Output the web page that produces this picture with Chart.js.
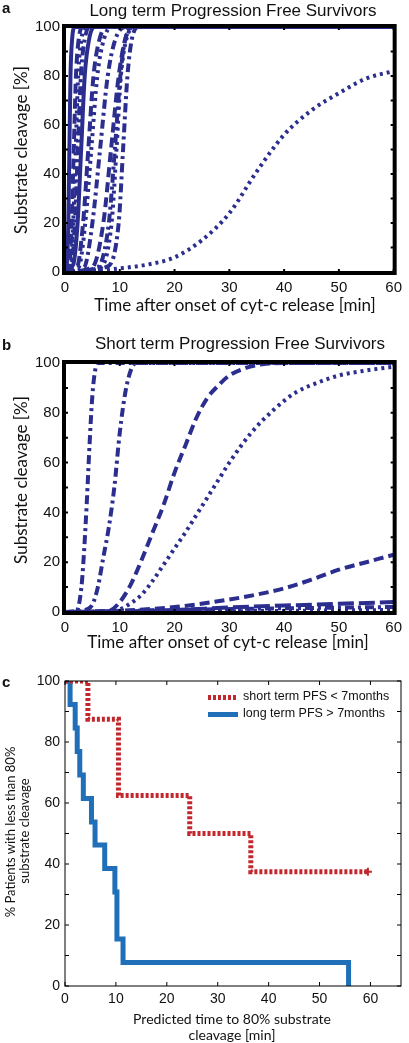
<!DOCTYPE html>
<html>
<head>
<meta charset="utf-8">
<script src="https://cdn.jsdelivr.net/npm/chart.js@4"></script>
<style>
  body { margin: 0; width: 409px; height: 1043px; position: relative; background: #fff; overflow: hidden; font-family: "Liberation Sans", Arial, sans-serif; }
  .box { position: absolute; }
  .txt { position: absolute; white-space: nowrap; color: #111; }
  .ctr { transform: translate(-50%, -50%); }
  .rot { transform: translate(-50%, -50%) rotate(-90deg); }
  .lab { font-family: Lato, "Liberation Sans", sans-serif; }
</style>
</head>
<body>

<div class="box" style="left:0;top:0;width:409px;height:310px"><canvas id="chartA"></canvas></div>
<div class="box" style="left:0;top:320px;width:409px;height:330px"><canvas id="chartB"></canvas></div>
<div class="box" style="left:0;top:650px;width:409px;height:393px"><canvas id="chartC"></canvas></div>

<div class="txt" style="left:2px;top:-1px;font-weight:bold;font-size:15px">a</div>
<div class="txt ctr" style="left:233px;top:11px;font-size:17px">Long term Progression Free Survivors</div>
<div class="txt rot lab" style="left:20px;top:150px;font-size:17px">Substrate cleavage [%]</div>
<div class="txt ctr lab" style="left:235px;top:304px;font-size:17px">Time after onset of cyt-c release [min]</div>

<div class="txt" style="left:2px;top:336px;font-weight:bold;font-size:15px">b</div>
<div class="txt ctr" style="left:240px;top:344px;font-size:17px">Short term Progression Free Survivors</div>
<div class="txt rot lab" style="left:20px;top:480px;font-size:17px">Substrate cleavage [%]</div>
<div class="txt ctr lab" style="left:228px;top:641px;font-size:17px">Time after onset of cyt-c release [min]</div>

<div class="txt" style="left:2px;top:673px;font-weight:bold;font-size:15px">c</div>
<div class="txt rot lab" style="left:10px;top:832px;font-size:13px">% Patients with less than 80%</div>
<div class="txt rot lab" style="left:24px;top:831px;font-size:13px">substrate cleavage</div>
<div class="txt ctr lab" style="left:232px;top:1018px;font-size:14px">Predicted time to 80% substrate</div>
<div class="txt ctr lab" style="left:232px;top:1034px;font-size:14px">cleavage [min]</div>

<div class="box" style="left:208px;top:695px;width:30px;height:5px;background:repeating-linear-gradient(90deg,#c1272d 0 3px,transparent 3px 5px)"></div>
<div class="txt" style="left:243px;top:689px;font-size:12.5px">short term PFS &lt; 7months</div>
<div class="box" style="left:208px;top:712px;width:30px;height:5px;background:#1f70b8"></div>
<div class="txt" style="left:243px;top:706px;font-size:12.5px">long term PFS &gt; 7months</div>

<script>
// panel a: long term PFS, substrate cleavage curves
const longT1 = [0, 0.4, 0.6, 0.8, 1.0, 1.3, 1.8, 60];
const longV1 = [0, 5, 20, 50, 80, 95, 100, 100];
const longT2 = [0, 0.8, 1.2, 1.6, 2.0, 2.5, 3.2, 60];
const longV2 = [0, 3, 20, 50, 80, 95, 100, 100];
const longT3 = [0, 1.0, 1.5, 1.95, 2.4, 3.0, 3.8, 60];
const longV3 = [0, 3, 20, 50, 80, 95, 100, 100];
const longT4 = [0, 1.2, 1.8, 2.35, 2.9, 3.6, 4.5, 60];
const longV4 = [0, 3, 20, 50, 80, 95, 100, 100];
const longT5 = [0, 1.5, 2.3, 2.95, 3.6, 4.4, 5.4, 60];
const longV5 = [0, 3, 20, 50, 80, 95, 100, 100];
const longT6 = [0, 2.2, 3.3, 4.25, 5.2, 6.3, 7.5, 60];
const longV6 = [0, 2, 20, 50, 80, 95, 100, 100];
const longT7 = [0, 2.5, 3.7, 4.8, 5.9, 7.1, 8.5, 60];
const longV7 = [0, 2, 20, 50, 80, 95, 100, 100];
const longT8 = [0, 3.5, 5.0, 6.4, 7.8, 9.2, 11.0, 60];
const longV8 = [0, 2, 20, 50, 80, 95, 100, 100];
const longT9 = [0, 5.0, 7.0, 8.4, 9.8, 11.0, 12.5, 60];
const longV9 = [0, 2, 20, 50, 80, 95, 100, 100];
const longT10 = [0, 6.0, 8.0, 9.1, 10.1, 11.0, 12.5, 60];
const longV10 = [0, 2, 20, 50, 80, 95, 100, 100];
const longT11 = [0, 6.5, 8.5, 9.4, 10.2, 11.2, 12.8, 60];
const longV11 = [0, 2, 20, 50, 80, 95, 100, 100];
const longT12 = [0, 7.5, 9.8, 10.6, 11.4, 12.2, 13.5, 60];
const longV12 = [0, 2, 20, 50, 80, 95, 100, 100];
const longT13 = [0, 5, 10, 15, 20, 25, 30, 35, 40, 45, 50, 55, 60];
const longV13 = [0, 0.5, 1.5, 3, 6, 13, 24, 41, 56, 66, 73, 79, 82];

// panel b: short term PFS
const shortT1 = [0, 2, 3, 3.5, 4, 4.5, 5, 5.5, 6, 60];
const shortV1 = [0, 0, 10, 25, 45, 68, 87, 97, 100, 100];
const shortT2 = [0, 4, 5, 6, 7, 8, 9, 10, 11, 12, 13, 60];
const shortV2 = [0, 1, 3, 10, 22, 34, 50, 72, 88, 97, 100, 100];
const shortT3 = [0, 8, 10, 12, 14, 16, 18, 20, 22, 24, 26, 28, 30, 33, 36, 40, 60];
const shortV3 = [0, 0.5, 4, 11, 21, 32, 43, 56, 67, 78, 86, 91, 95, 98, 99.5, 100, 100];
const shortT4 = [0, 8, 10, 12, 14, 16, 18, 20, 22, 24, 26, 28, 30, 34, 38, 42, 46, 50, 55, 60];
const shortV4 = [0, 0, 1, 3.5, 7, 12.5, 19, 25.5, 32, 39, 46, 53, 60, 72, 81, 88, 92, 95, 97, 98.5];
const shortT5 = [0, 10, 20, 30, 35, 40, 45, 50, 55, 60];
const shortV5 = [0, 0.5, 2, 5, 7, 9.5, 13, 17, 20, 23];
const shortT6 = [0, 10, 20, 30, 40, 50, 60];
const shortV6 = [0, 0.2, 0.8, 1.8, 2.6, 3.3, 4];
const shortT7 = [0, 20, 40, 60];
const shortV7 = [0, 0.8, 1.5, 2];
const shortT8 = [0, 30, 60];
const shortV8 = [0, 0.3, 0.8];

// panel c: Kaplan-Meier, time to 80% cleavage
const kmShortT = [0, 4.5, 10.5, 24.5, 36.5, 59.5];
const kmShortV = [100, 87.5, 62.5, 50, 37.5, 37.5];
const kmLongT = [0, 1.0, 2.0, 2.4, 2.9, 3.6, 5.2, 5.9, 7.8, 9.8, 10.2, 11.4, 55.7];
const kmLongV = [100, 92.3, 84.6, 76.9, 69.2, 61.5, 53.8, 46.2, 38.5, 30.8, 15.4, 7.7, 0];

const navy = '#2b2e8f';
const dashes = {
    solid: [],
    dash: [10, 5],
    dot: [3, 4],
    dashdot: [9, 4, 3, 4],
    longdash: [16, 5]
};

function pts(ts, vs) {
    return ts.map((t, i) => ({ x: t, y: vs[i] }));
}

function curve(ts, vs, style) {
    return {
        data: pts(ts, vs),
        borderColor: navy,
        borderWidth: 4,
        borderDash: dashes[style],
        borderCapStyle: 'butt',
        pointRadius: 0,
        cubicInterpolationMode: 'monotone',
        fill: false
    };
}

const framePlugin = {
    id: 'frame',
    afterDatasetsDraw(chart, args, opts) {
        const { ctx, chartArea: a, scales: { x, y } } = chart;
        const off = opts.offset || 0;
        ctx.save();
        ctx.strokeStyle = '#000';
        ctx.lineWidth = opts.width;
        ctx.strokeRect(a.left - off, a.top - off, a.right - a.left + 2 * off, a.bottom - a.top + 2 * off);
        ctx.lineWidth = opts.tickWidth;
        ctx.beginPath();
        for (let v = 0; v <= y.max; v += opts.yStep) {
            const py = y.getPixelForValue(v);
            ctx.moveTo(a.left, py); ctx.lineTo(a.left + opts.tickLen, py);
            ctx.moveTo(a.right, py); ctx.lineTo(a.right - opts.tickLen, py);
        }
        for (let v = 0; v <= x.max; v += opts.xStep) {
            const px = x.getPixelForValue(v);
            ctx.moveTo(px, a.bottom); ctx.lineTo(px, a.bottom - opts.tickLen);
            ctx.moveTo(px, a.top); ctx.lineTo(px, a.top + opts.tickLen);
        }
        ctx.stroke();
        ctx.restore();
    }
};

function axes(xMax, fontSize, xPad) {
    const font = { family: '"Liberation Sans", Arial, sans-serif', size: fontSize };
    return {
        x: {
            type: 'linear', min: 0, max: xMax,
            grid: { display: false, drawTicks: false },
            border: { display: false },
            ticks: { stepSize: 10, color: '#111', font: font, padding: xPad, maxRotation: 0 },
            afterBuildTicks: s => { s.ticks = s.ticks.filter(t => t.value % 10 === 0); },
            afterFit: s => { s.height = 24; }
        },
        y: {
            min: 0, max: 100,
            grid: { display: false, drawTicks: false },
            border: { display: false },
            ticks: { stepSize: 20, color: '#111', font: font, padding: 5 },
            afterFit: s => { s.width = 40; }
        }
    };
}

function baseOptions(xMax, fontSize, xPad, pad, frame) {
    return {
        responsive: true,
        maintainAspectRatio: false,
        animation: false,
        layout: { padding: pad },
        plugins: { legend: { display: false }, tooltip: { enabled: false }, frame: frame },
        scales: axes(xMax, fontSize, xPad)
    };
}

const longSets = [
    curve(longT1, longV1, 'solid'),
    curve(longT2, longV2, 'dash'),
    curve(longT3, longV3, 'dot'),
    curve(longT4, longV4, 'dashdot'),
    curve(longT5, longV5, 'solid'),
    curve(longT6, longV6, 'dash'),
    curve(longT7, longV7, 'dot'),
    curve(longT8, longV8, 'dashdot'),
    curve(longT9, longV9, 'dash'),
    curve(longT10, longV10, 'dashdot'),
    curve(longT11, longV11, 'dot'),
    curve(longT12, longV12, 'dashdot'),
    curve(longT13, longV13, 'dot')
];

new Chart(document.getElementById('chartA'), {
    type: 'line',
    data: { datasets: longSets },
    options: baseOptions(60, 15, 7, { left: 25, right: 6, top: 27, bottom: 14 },
        { width: 4, offset: 1, tickWidth: 2, tickLen: 3, xStep: 10, yStep: 10 }),
    plugins: [framePlugin]
});

const shortSets = [
    curve(shortT1, shortV1, 'dashdot'),
    curve(shortT2, shortV2, 'dashdot'),
    curve(shortT3, shortV3, 'dash'),
    curve(shortT4, shortV4, 'dot'),
    curve(shortT5, shortV5, 'dash'),
    curve(shortT6, shortV6, 'longdash'),
    curve(shortT7, shortV7, 'dashdot'),
    curve(shortT8, shortV8, 'dot')
];

new Chart(document.getElementById('chartB'), {
    type: 'line',
    data: { datasets: shortSets },
    options: baseOptions(60, 15, 7, { left: 25, right: 6, top: 43, bottom: 14 },
        { width: 4, offset: 1, tickWidth: 2, tickLen: 3, xStep: 10, yStep: 10 }),
    plugins: [framePlugin]
});

const lastShort = kmShortT.length - 1;
new Chart(document.getElementById('chartC'), {
    type: 'line',
    data: {
        datasets: [
            {
                data: pts(kmShortT, kmShortV),
                borderColor: '#c1272d',
                borderWidth: 5,
                borderDash: [3, 2],
                borderCapStyle: 'butt',
                stepped: 'before',
                pointStyle: 'cross',
                pointRadius: kmShortT.map((t, i) => i === lastShort ? 4 : 0),
                pointBorderColor: '#c1272d',
                pointBorderWidth: 2,
                fill: false
            },
            {
                data: pts(kmLongT, kmLongV),
                borderColor: '#1f70b8',
                borderWidth: 5,
                stepped: 'before',
                pointRadius: 0,
                fill: false
            }
        ]
    },
    options: baseOptions(66, 14, 5, { left: 25, right: 8, top: 31, bottom: 33 },
        { width: 1, offset: 0, tickWidth: 1, tickLen: 4, xStep: 10, yStep: 10 }),
    plugins: [framePlugin]
});
</script>
</body>
</html>
